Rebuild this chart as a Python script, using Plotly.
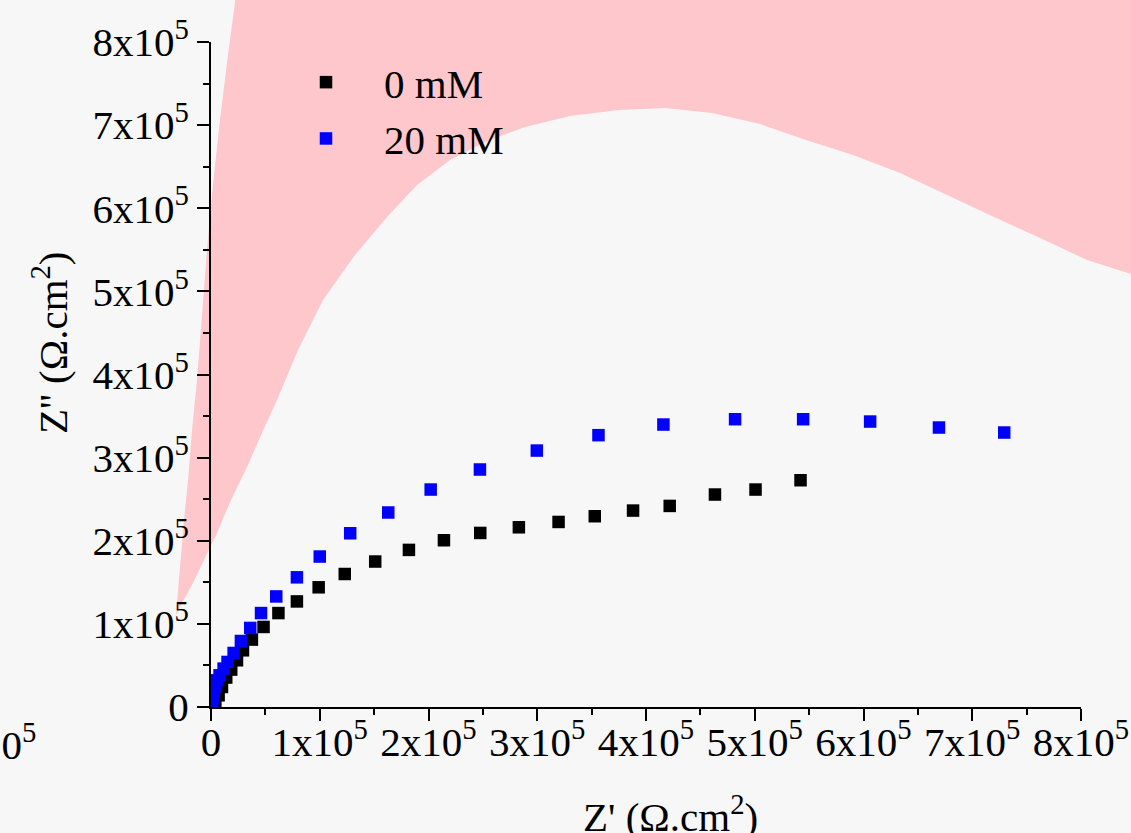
import plotly.graph_objects as go

# ---------------- data (values in units of Ohm.cm^2) ----------------
z_real_0mM = [0.04e5, 0.07e5, 0.101e5, 0.140e5, 0.186e5, 0.239e5, 0.294e5, 0.376e5, 0.483e5,
              0.62e5, 0.79e5, 0.99e5, 1.23e5, 1.51e5, 1.82e5, 2.142e5, 2.476e5, 2.831e5,
              3.196e5, 3.529e5, 3.881e5, 4.218e5, 4.634e5, 5.007e5, 5.421e5]
z_imag_0mM = [0.041e5, 0.141e5, 0.241e5, 0.354e5, 0.45e5, 0.562e5, 0.682e5, 0.811e5, 0.963e5,
              1.13e5, 1.27e5, 1.44e5, 1.60e5, 1.75e5, 1.89e5, 2.006e5, 2.094e5, 2.162e5,
              2.226e5, 2.295e5, 2.363e5, 2.419e5, 2.556e5, 2.616e5, 2.728e5]

z_real_20mM = [0.009e5, 0.015e5, 0.024e5, 0.039e5, 0.055e5, 0.079e5, 0.116e5, 0.152e5, 0.208e5,
               0.275e5, 0.361e5, 0.46e5, 0.60e5, 0.79e5, 1.00e5, 1.28e5, 1.63e5, 2.020e5,
               2.473e5, 2.996e5, 3.563e5, 4.160e5, 4.819e5, 5.445e5, 6.061e5, 6.694e5, 7.294e5]
z_imag_20mM = [0.045e5, 0.105e5, 0.161e5, 0.241e5, 0.321e5, 0.381e5, 0.462e5, 0.542e5, 0.650e5,
               0.794e5, 0.951e5, 1.13e5, 1.33e5, 1.56e5, 1.81e5, 2.09e5, 2.34e5, 2.616e5,
               2.857e5, 3.085e5, 3.270e5, 3.398e5, 3.462e5, 3.462e5, 3.434e5, 3.362e5, 3.302e5]

series_names = ["0 mM", "20 mM"]

major_tickvals = [0, 1e5, 2e5, 3e5, 4e5, 5e5, 6e5, 7e5, 8e5]
major_ticktext = ["0", "1x10<sup>5</sup>", "2x10<sup>5</sup>", "3x10<sup>5</sup>", "4x10<sup>5</sup>",
                  "5x10<sup>5</sup>", "6x10<sup>5</sup>", "7x10<sup>5</sup>", "8x10<sup>5</sup>"]
minor_tickvals = [0.5e5, 1.5e5, 2.5e5, 3.5e5, 4.5e5, 5.5e5, 6.5e5, 7.5e5]

x_title = "Z' (Ω.cm<sup>2</sup>)"
y_title = "Z'' (Ω.cm<sup>2</sup>)"

# ---------------- layout geometry ----------------
W, H = 1131, 833
L, R, T, B = 211, 50, 42, 126
PW, PH = W - L - R, H - T - B


def px_to_paper(px, py):
    return (px - L) / PW, (H - B - py) / PH


# decorative pink background blob of the source image (pixel outline)
pink_outline = [(236, -5), (1140, -5), (1140, 277), (1087, 260), (1040, 238), (994, 217), (947, 195),
                (900, 173), (853, 155), (806, 140), (760, 124), (712, 113), (665, 108), (619, 110),
                (570, 116), (525, 127), (485, 142), (450, 160), (417, 185), (387, 217), (355, 255),
                (323, 300), (298, 350), (277, 400), (261, 435), (247, 467), (231, 500), (217, 533),
                (204, 560), (193, 583), (182, 603), (176, 615), (178, 590), (180, 567), (184, 520),
                (188, 480), (192, 430), (197, 380), (202, 315), (207, 250), (213, 185), (220, 120),
                (228, 55)]
pts = [px_to_paper(x, y) for x, y in pink_outline]
path = "M " + " L ".join(f"{x:.4f},{y:.4f}" for x, y in pts) + " Z"

FONT = "Liberation Serif, Times New Roman, serif"
FS = 41
BG = "#f7f7f7"

fig = go.Figure()
fig.add_trace(go.Scatter(x=z_real_0mM, y=z_imag_0mM, mode="markers", name=series_names[0],
                         marker=dict(symbol="square", size=12.5, color="#000000")))
fig.add_trace(go.Scatter(x=z_real_20mM, y=z_imag_20mM, mode="markers", name=series_names[1],
                         marker=dict(symbol="square", size=12.5, color="#0000ff")))

axis_common = dict(
    range=[0, 8e5], showgrid=False, zeroline=False, showline=True, linecolor="black", linewidth=2,
    ticks="outside", ticklen=12, tickwidth=2, tickcolor="black", automargin=False,
    tickmode="array", tickvals=major_tickvals, ticktext=major_ticktext,
    tickfont=dict(family=FONT, size=FS, color="black"),
    minor=dict(tickmode="array", tickvals=minor_tickvals, ticks="outside", ticklen=6,
               tickwidth=2, tickcolor="black"),
)
fig.update_xaxes(**axis_common, ticklabelstandoff=-14)
fig.update_yaxes(**axis_common)

fig.update_layout(
    width=W, height=H,
    margin=dict(l=L, r=R, t=T, b=B, pad=0, autoexpand=False),
    paper_bgcolor=BG, plot_bgcolor="rgba(0,0,0,0)",
    font=dict(family=FONT, size=FS, color="black"),
    showlegend=True,
    legend=dict(x=px_to_paper(268, 0)[0], y=px_to_paper(0, 49)[1], xanchor="left", yanchor="top",
                bgcolor="rgba(0,0,0,0)", borderwidth=0, itemwidth=106,
                font=dict(family=FONT, size=FS, color="black"), tracegroupgap=0),
    shapes=[dict(type="path", path=path, xref="paper", yref="paper", layer="below",
                 fillcolor="#fdc7cc", line=dict(width=0))],
    annotations=[
        dict(text=y_title, textangle=-90, x=px_to_paper(50, 0)[0], y=px_to_paper(0, 343)[1],
             xref="paper", yref="paper", xanchor="center", yanchor="middle", showarrow=False,
             font=dict(family=FONT, size=FS, color="black")),
        dict(text=x_title, x=px_to_paper(670, 0)[0], y=px_to_paper(0, 814)[1],
             xref="paper", yref="paper", xanchor="center", yanchor="middle", showarrow=False,
             font=dict(family=FONT, size=FS, color="black")),
        dict(text="8x10<sup>5</sup>", x=px_to_paper(38, 0)[0], y=px_to_paper(0, 742)[1],
             xref="paper", yref="paper", xanchor="right", yanchor="middle", showarrow=False,
             font=dict(family=FONT, size=FS, color="black")),
    ],
)

fig.write_html(
    "out.html",
    config={"displayModeBar": False},
    post_script=(
        "document.documentElement.style.margin='0';"
        "document.body.style.margin='0';"
        f"document.body.style.background='{BG}';"
        "document.body.style.overflow='hidden';"
    ),
)
